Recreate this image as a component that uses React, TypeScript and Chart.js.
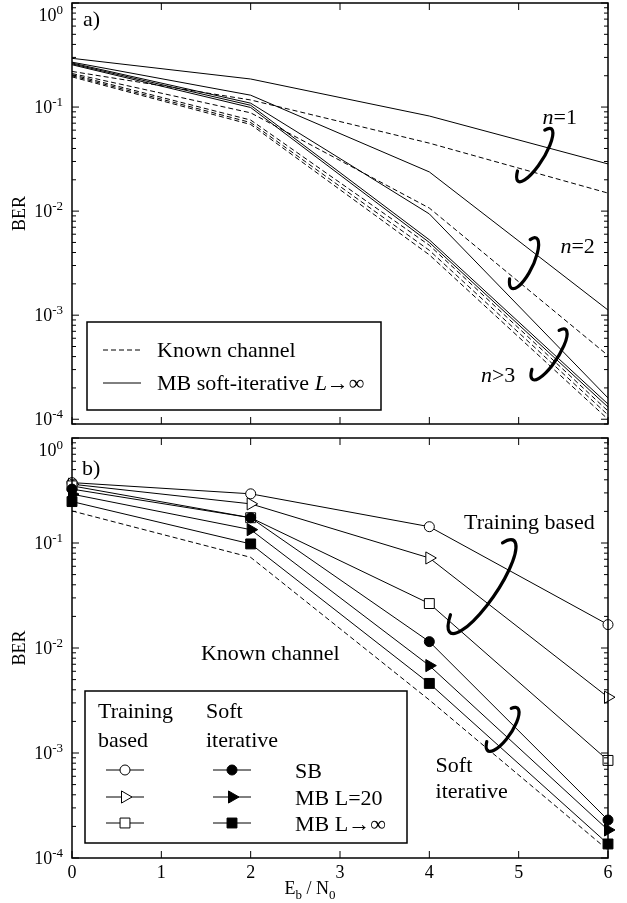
import React, { useEffect, useRef } from 'react';
import { Chart, registerables } from 'chart.js';

Chart.register(...registerables);

// ---------- data ----------
const snr = [0, 2, 4, 6];
const xTickLabels = ['0', '1', '2', '3', '4', '5', '6'];
const yExpA = [0, -1, -2, -3, -4];
const yExpB = [0, -1, -2, -3, -4];

// panel a) MB soft-iterative L->inf (solid), n = 1..5
const mbN1 = [0.294, 0.186, 0.082, 0.0284];
const mbN2 = [0.27, 0.13, 0.0238, 0.00112];
const mbN3 = [0.265, 0.109, 0.0094, 0.00016];
const mbN4 = [0.26, 0.104, 0.0053, 0.00014];
const mbN5 = [0.255, 0.099, 0.005, 0.000131];
// panel a) known channel (dashed), n = 1..5
const knN1 = [0.22, 0.117, 0.045, 0.0149];
const knN2 = [0.21, 0.088, 0.0107, 0.00041];
const knN3 = [0.205, 0.075, 0.0047, 0.00012];
const knN4 = [0.2, 0.071, 0.0042, 0.00011];
const knN5 = [0.195, 0.068, 0.0038, 0.0001];

// panel b)
const trainSB = [0.376, 0.294, 0.143, 0.0167];
const trainMB20 = [0.363, 0.236, 0.072, 0.0034];
const trainMBinf = [0.35, 0.174, 0.0265, 0.00085];
const softSB = [0.326, 0.174, 0.0115, 0.00023];
const softMB20 = [0.292, 0.134, 0.0068, 0.000185];
const softMBinf = [0.248, 0.098, 0.0046, 0.000136];
const knownB = [0.202, 0.073, 0.0032, 0.000119];

// ---------- helpers ----------
const SERIF = '"Liberation Serif","Times New Roman",serif';
const fnt = (px: number, style = '') => `${style} ${px}px ${SERIF}`.trim();
const TXT = 22;
const TICK = 18;
const SUP = 13;

type Part = { t: string; f: string; dy?: number };
function drawRich(ctx: CanvasRenderingContext2D, parts: Part[], x: number, y: number, align: 'left' | 'center' | 'right') {
  let w = 0;
  for (const p of parts) { ctx.font = p.f; w += ctx.measureText(p.t).width; }
  let cx = align === 'left' ? x : align === 'center' ? x - w / 2 : x - w;
  ctx.textAlign = 'left';
  ctx.textBaseline = 'alphabetic';
  ctx.fillStyle = '#000';
  for (const p of parts) {
    ctx.font = p.f;
    ctx.fillText(p.t, cx, y + (p.dy || 0));
    cx += ctx.measureText(p.t).width;
  }
}

function line(ctx: CanvasRenderingContext2D, x1: number, y1: number, x2: number, y2: number) {
  ctx.beginPath(); ctx.moveTo(x1, y1); ctx.lineTo(x2, y2); ctx.stroke();
}

function drawLoop(ctx: CanvasRenderingContext2D, cx: number, cy: number, half: number, rx: number, tilt: number) {
  ctx.save();
  ctx.lineWidth = 3.2;
  ctx.lineCap = 'round';
  ctx.strokeStyle = '#000';
  ctx.setLineDash([]);
  ctx.beginPath();
  ctx.ellipse(cx, cy, rx, half, tilt, -Math.PI / 2 - 0.55, Math.PI / 2 + 0.75);
  ctx.stroke();
  ctx.restore();
}

function marker(ctx: CanvasRenderingContext2D, kind: string, filled: boolean, x: number, y: number) {
  ctx.save();
  ctx.setLineDash([]);
  ctx.lineWidth = 1;
  ctx.strokeStyle = '#000';
  line(ctx, x - 19, y, x + 19, y);
  ctx.beginPath();
  if (kind === 'circle') ctx.arc(x, y, 5, 0, Math.PI * 2);
  else if (kind === 'tri') {
    const r = 7;
    ctx.moveTo(x + r, y);
    ctx.lineTo(x - r * 0.5, y + r * 0.866);
    ctx.lineTo(x - r * 0.5, y - r * 0.866);
    ctx.closePath();
  } else {
    const s = 7 * Math.SQRT1_2;
    ctx.rect(x - s, y - s, 2 * s, 2 * s);
  }
  ctx.fillStyle = filled ? '#000' : '#fff';
  ctx.fill();
  ctx.stroke();
  ctx.restore();
}

function drawAxes(chart: any, yExp: number[], topShift: number, xLabels: boolean) {
  const { ctx, chartArea: ca, scales } = chart;
  const xs = scales.x, ys = scales.y;
  ctx.save();
  ctx.strokeStyle = '#000';
  ctx.setLineDash([]);
  ctx.lineWidth = 1;
  // x ticks (inward, top and bottom)
  for (let i = 0; i < xTickLabels.length; i++) {
    const px = xs.getPixelForValue(Number(xTickLabels[i]));
    line(ctx, px, ca.bottom, px, ca.bottom - 7);
    line(ctx, px, ca.top, px, ca.top + 7);
  }
  // y ticks (inward, left and right)
  for (let e = -5; e <= 0; e++) {
    for (let m = 1; m <= 9; m++) {
      const v = m * Math.pow(10, e);
      if (v < ys.min * 0.999 || v > ys.max * 1.001) continue;
      const py = ys.getPixelForValue(v);
      const len = m === 1 ? 7 : 4;
      line(ctx, ca.left, py, ca.left + len, py);
      line(ctx, ca.right, py, ca.right - len, py);
    }
  }
  // frame
  ctx.lineWidth = 1.5;
  ctx.strokeRect(ca.left, ca.top, ca.right - ca.left, ca.bottom - ca.top);
  // y labels
  for (const e of yExp) {
    let py = ys.getPixelForValue(Math.pow(10, e));
    if (e === 0) py += topShift;
    drawRich(ctx, [{ t: '10', f: fnt(TICK) }, { t: String(e), f: fnt(SUP), dy: -7 }], ca.left - 9, py + 6, 'right');
  }
  if (xLabels) {
    for (const l of xTickLabels) {
      const px = xs.getPixelForValue(Number(l));
      drawRich(ctx, [{ t: l, f: fnt(TICK) }], px, ca.bottom + 20, 'center');
    }
    drawRich(ctx, [
      { t: 'E', f: fnt(TICK) }, { t: 'b', f: fnt(SUP), dy: 5 },
      { t: ' / N', f: fnt(TICK) }, { t: '0', f: fnt(SUP), dy: 5 },
    ], 310, ca.bottom + 36, 'center');
  }
  // BER
  ctx.save();
  ctx.translate(20, (ca.top + ca.bottom) / 2);
  ctx.rotate(-Math.PI / 2);
  ctx.font = fnt(TICK);
  ctx.textAlign = 'center';
  ctx.textBaseline = 'middle';
  ctx.fillStyle = '#000';
  ctx.fillText('BER', 0, 0);
  ctx.restore();
  ctx.restore();
}

const xy = (ys: number[]) => snr.map((x, i) => ({ x, y: ys[i] }));

function configA(): any {
  const solid = [mbN1, mbN2, mbN3, mbN4, mbN5];
  const dashed = [knN1, knN2, knN3, knN4, knN5];
  const datasets: any[] = [];
  dashed.forEach((d, i) => datasets.push({ label: 'Known n=' + (i + 1), data: xy(d), borderColor: '#000', borderWidth: 1, borderDash: [5, 3], pointRadius: 0, tension: 0, fill: false }));
  solid.forEach((d, i) => datasets.push({ label: 'MB n=' + (i + 1), data: xy(d), borderColor: '#000', borderWidth: 1, pointRadius: 0, tension: 0, fill: false }));
  return {
    type: 'line',
    data: { datasets },
    options: {
      responsive: false,
      animation: false,
      events: [],
      layout: { padding: { left: 72, right: 19, top: 3, bottom: 6 } },
      plugins: { legend: { display: false }, tooltip: { enabled: false } },
      scales: {
        x: { type: 'linear', min: 0, max: 6, display: false },
        y: { type: 'logarithmic', min: 9e-5, max: 1, display: false },
      },
    },
    plugins: [{
      id: 'decorA',
      afterDraw(chart: any) {
        const { ctx, chartArea: ca, scales } = chart;
        const xs = scales.x, ys = scales.y;
        drawAxes(chart, yExpA, 12, false);
        ctx.save();
        drawRich(ctx, [{ t: 'a)', f: fnt(TXT) }], ca.left + 11, ca.top + 23, 'left');
        // group labels
        drawRich(ctx, [{ t: 'n', f: fnt(TXT, 'italic') }, { t: '=1', f: fnt(TXT) }], xs.getPixelForValue(5.46), ys.getPixelForValue(0.08) + 7, 'center');
        drawRich(ctx, [{ t: 'n', f: fnt(TXT, 'italic') }, { t: '=2', f: fnt(TXT) }], xs.getPixelForValue(5.66), ys.getPixelForValue(0.0046) + 7, 'center');
        drawRich(ctx, [{ t: 'n', f: fnt(TXT, 'italic') }, { t: '>3', f: fnt(TXT) }], xs.getPixelForValue(4.77), ys.getPixelForValue(2.65e-4) + 7, 'center');
        drawLoop(ctx, xs.getPixelForValue(5.18), ys.getPixelForValue(0.0346), 31, 9, 0.56);
        drawLoop(ctx, xs.getPixelForValue(5.06), ys.getPixelForValue(0.00316), 28, 9, 0.45);
        drawLoop(ctx, xs.getPixelForValue(5.34), ys.getPixelForValue(4.2e-4), 30, 9, 0.58);
        // legend box
        const bx = ca.left + 15, by = ca.bottom - 102, bw = 294, bh = 88;
        ctx.fillStyle = '#fff';
        ctx.fillRect(bx, by, bw, bh);
        ctx.lineWidth = 1.5;
        ctx.strokeStyle = '#000';
        ctx.strokeRect(bx, by, bw, bh);
        ctx.lineWidth = 1;
        ctx.setLineDash([5, 3]);
        line(ctx, bx + 16, by + 28, bx + 54, by + 28);
        ctx.setLineDash([]);
        line(ctx, bx + 16, by + 61, bx + 54, by + 61);
        drawRich(ctx, [{ t: 'Known channel', f: fnt(TXT) }], bx + 70, by + 35, 'left');
        drawRich(ctx, [{ t: 'MB soft-iterative ', f: fnt(TXT) }, { t: 'L', f: fnt(TXT, 'italic') }, { t: '→∞', f: fnt(TXT) }], bx + 70, by + 68, 'left');
        ctx.restore();
      },
    }],
  };
}

function configB(): any {
  const mk = (label: string, d: number[], style: string, filled: boolean, r: number, rot = 0) => ({
    label, data: xy(d), borderColor: '#000', borderWidth: 1, tension: 0, fill: false,
    pointStyle: style, pointRadius: r, pointRotation: rot, pointBorderWidth: 1,
    pointBorderColor: '#000', pointBackgroundColor: filled ? '#000' : '#fff', clip: false,
  });
  const datasets: any[] = [
    mk('Soft SB', softSB, 'circle', true, 5),
    mk('Soft MB L=20', softMB20, 'triangle', true, 7, 90),
    mk('Soft MB L→∞', softMBinf, 'rect', true, 7),
    mk('Training MB L→∞', trainMBinf, 'rect', false, 7),
    mk('Training MB L=20', trainMB20, 'triangle', false, 7, 90),
    mk('Training SB', trainSB, 'circle', false, 5),
    { label: 'Known channel', data: xy(knownB), borderColor: '#000', borderWidth: 1, borderDash: [5, 3], pointRadius: 0, tension: 0, fill: false },
  ];
  return {
    type: 'line',
    data: { datasets },
    options: {
      responsive: false,
      animation: false,
      events: [],
      layout: { padding: { left: 72, right: 19, top: 7, bottom: 45 } },
      plugins: { legend: { display: false }, tooltip: { enabled: false } },
      scales: {
        x: { type: 'linear', min: 0, max: 6, display: false },
        y: { type: 'logarithmic', min: 1e-4, max: 1, display: false },
      },
    },
    plugins: [{
      id: 'decorB',
      afterDraw(chart: any) {
        const { ctx, chartArea: ca, scales } = chart;
        const xs = scales.x, ys = scales.y;
        drawAxes(chart, yExpB, 12, true);
        ctx.save();
        drawRich(ctx, [{ t: 'b)', f: fnt(TXT) }], ca.left + 10, ca.top + 37, 'left');
        drawRich(ctx, [{ t: 'Training based', f: fnt(TXT) }], xs.getPixelForValue(5.12), ys.getPixelForValue(0.159) + 7, 'center');
        drawRich(ctx, [{ t: 'Known channel', f: fnt(TXT) }], xs.getPixelForValue(2.22), ys.getPixelForValue(0.00906) + 7, 'center');
        drawRich(ctx, [{ t: 'Soft', f: fnt(TXT) }], xs.getPixelForValue(4.07), ys.getPixelForValue(7.65e-4) + 7, 'left');
        drawRich(ctx, [{ t: 'iterative', f: fnt(TXT) }], xs.getPixelForValue(4.07), ys.getPixelForValue(4.33e-4) + 7, 'left');
        drawLoop(ctx, xs.getPixelForValue(4.59), ys.getPixelForValue(0.0384), 56, 15, 0.6);
        drawLoop(ctx, xs.getPixelForValue(4.82), ys.getPixelForValue(1.68e-3), 26, 9, 0.6);
        // legend box
        const bx = ca.left + 13, by = ca.bottom - 167, bw = 322, bh = 152;
        ctx.fillStyle = '#fff';
        ctx.fillRect(bx, by, bw, bh);
        ctx.lineWidth = 1.5;
        ctx.strokeStyle = '#000';
        ctx.strokeRect(bx, by, bw, bh);
        drawRich(ctx, [{ t: 'Training', f: fnt(TXT) }], bx + 13, by + 27, 'left');
        drawRich(ctx, [{ t: 'based', f: fnt(TXT) }], bx + 13, by + 56, 'left');
        drawRich(ctx, [{ t: 'Soft', f: fnt(TXT) }], bx + 121, by + 27, 'left');
        drawRich(ctx, [{ t: 'iterative', f: fnt(TXT) }], bx + 121, by + 56, 'left');
        const rows = [by + 79, by + 106, by + 132];
        const kinds = ['circle', 'tri', 'square'];
        const names = ['SB', 'MB L=20', 'MB L→∞'];
        rows.forEach((ry, i) => {
          marker(ctx, kinds[i], false, bx + 40, ry);
          marker(ctx, kinds[i], true, bx + 147, ry);
          drawRich(ctx, [{ t: names[i], f: fnt(TXT) }], bx + 210, ry + 8, 'left');
        });
        ctx.restore();
      },
    }],
  };
}

function Panel({ make, top, height }: { make: () => any; top: number; height: number }) {
  const ref = useRef<HTMLCanvasElement>(null);
  useEffect(() => {
    const chart = new Chart(ref.current as HTMLCanvasElement, make());
    return () => chart.destroy();
  }, []);
  return (
    <canvas ref={ref} width={627} height={height}
      style={{ position: 'absolute', left: 0, top, width: 627, height, display: 'block' }} />
  );
}

export default function App() {
  return (
    <div style={{ position: 'absolute', left: 0, top: 0, width: 627, height: 903, background: '#fff' }}>
      <Panel make={configA} top={0} height={430} />
      <Panel make={configB} top={430} height={473} />
    </div>
  );
}
